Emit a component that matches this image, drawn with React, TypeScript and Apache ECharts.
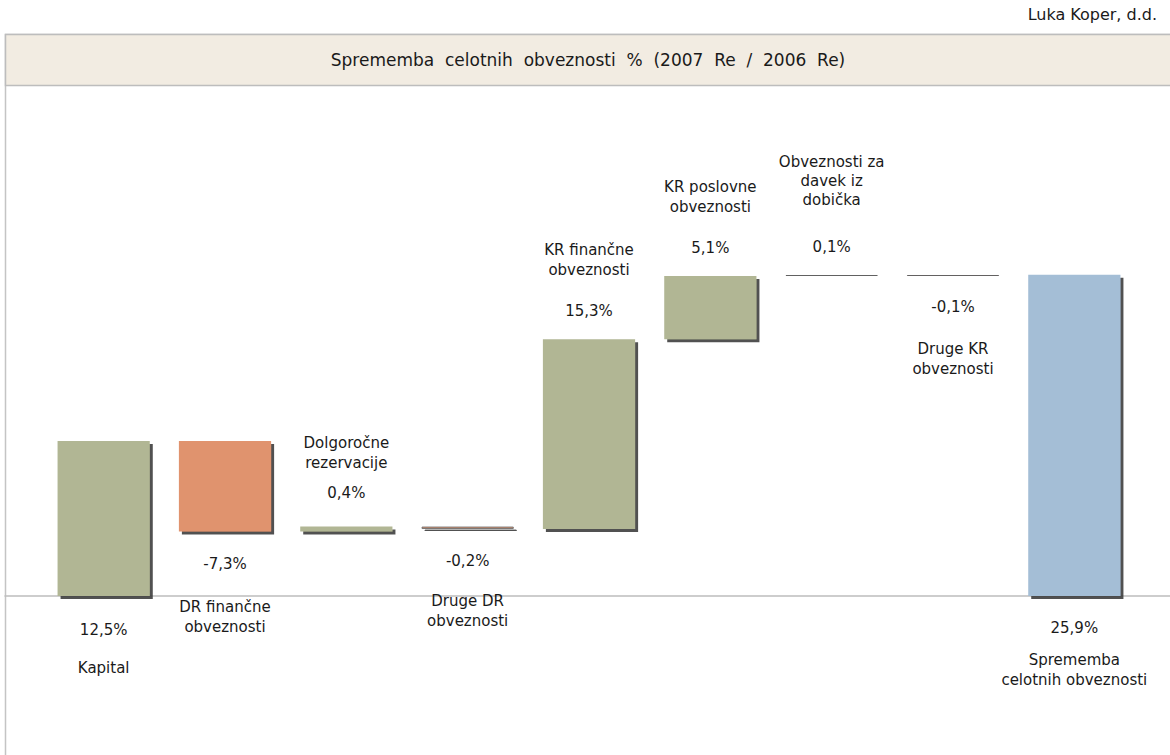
import React, { useEffect, useRef } from "react";
import * as echarts from "echarts";

const categories = [
  "Kapital",
  "DR finančne\nobveznosti",
  "Dolgoročne\nrezervacije",
  "Druge DR\nobveznosti",
  "KR finančne\nobveznosti",
  "KR poslovne\nobveznosti",
  "Obveznosti za\ndavek iz\ndobička",
  "Druge KR\nobveznosti",
  "Sprememba\ncelotnih obveznosti",
];
const changes = [12.5, -7.3, 0.4, -0.2, 15.3, 5.1, 0.1, -0.1];
const totalValue = 25.9;
const titleText = "Sprememba  celotnih  obveznosti  %  (2007  Re  /  2006  Re)";
const companyText = "Luka Koper, d.d.";

const GREEN = "#B1B694";
const ORANGE = "#E0936E";
const BLUE = "#A4BED6";
const FONT = "DejaVu Sans";

const fmt = (v: number) => v.toFixed(1).replace(".", ",") + "%";

export default function App() {
  const ref = useRef<HTMLDivElement>(null);
  useEffect(() => {
    if (!ref.current) return;
    const chart = echarts.init(ref.current, undefined, { renderer: "svg" });

    // label layout tweaks (distance from bar edge, gap between value and name)
    const labelDistance = [24, 22, 24, 22, 18, 18, 18, 21, 22];
    const labelGap = [18, 23, 10, 20, 21, 21, 27, 22, 12];

    const shadow = {
      shadowColor: "rgba(60,60,60,0.9)",
      shadowOffsetX: 3,
      shadowOffsetY: 3,
      shadowBlur: 1.5,
    };

    const lines = (s: string) =>
      s
        .split("\n")
        .map((l) => `{c|${l}}`)
        .join("\n");

    const makeLabel = (i: number, value: number, pos: string, valueFirst: boolean) => {
      const g = labelGap[i];
      const text = valueFirst
        ? `{v|${fmt(value)}}\n{g| }\n${lines(categories[i])}`
        : `${lines(categories[i])}\n{g| }\n{v|${fmt(value)}}`;
      return {
        show: true,
        position: pos,
        distance: labelDistance[i],
        formatter: () => text,
        rich: {
          v: { fontSize: 15, lineHeight: 20, fontFamily: FONT, color: "#1a1a1a" },
          c: {
            fontSize: 15,
            lineHeight: i === 6 ? 19 : 20,
            fontFamily: FONT,
            color: "#1a1a1a",
          },
          g: { fontSize: 4, lineHeight: g, height: g },
        },
      };
    };

    const thinStyle = (v: number) => {
      const a = Math.abs(v);
      if (a <= 0.1) return { borderColor: "rgba(95,95,95,0.95)", borderWidth: 1 };
      if (a < 0.3) return { borderColor: "rgba(110,110,110,0.9)", borderWidth: 1 };
      return {};
    };

    const baseData: number[] = [];
    const barData: any[] = [];
    let cum = 0;
    changes.forEach((v, i) => {
      const start = cum;
      const end = cum + v;
      cum = end;
      const isFirst = i === 0;
      baseData.push(Math.min(start, end));
      const pos = isFirst ? "bottom" : v >= 0 ? "top" : "bottom";
      const valueFirst = isFirst || v < 0;
      barData.push({
        value: Math.abs(v),
        itemStyle: {
          color: v >= 0 ? GREEN : ORANGE,
          ...shadow,
          ...thinStyle(v),
        },
        label: makeLabel(i, v, pos, valueFirst),
      });
    });
    baseData.push(0);
    barData.push({
      value: totalValue,
      itemStyle: { color: BLUE, ...shadow },
      label: makeLabel(categories.length - 1, totalValue, "bottom", true),
    });

    const yMin = -10;
    const yMax = 35;

    chart.setOption({
      animation: false,
      backgroundColor: "#ffffff",
      textStyle: { fontFamily: FONT },
      graphic: [
        {
          type: "rect",
          shape: { x: 5.5, y: 34.5, width: 1180, height: 740 },
          style: { fill: "none", stroke: "#C4C4C4", lineWidth: 1.5 },
          z: -1,
        },
        {
          type: "rect",
          shape: { x: 5.5, y: 34.5, width: 1180, height: 51 },
          style: { fill: "#F2ECE2", stroke: "#BDBDBD", lineWidth: 1.5 },
          z: -1,
        },
        {
          type: "text",
          style: {
            text: titleText,
            x: 588,
            y: 60,
            align: "center",
            verticalAlign: "middle",
            font: `17px "${FONT}"`,
            fill: "#1a1a1a",
          },
        },
        {
          type: "text",
          style: {
            text: companyText,
            x: 1157,
            y: 14,
            align: "right",
            verticalAlign: "middle",
            font: `16px "${FONT}"`,
            fill: "#1a1a1a",
          },
        },
      ],
      grid: [
        { left: 43, right: 35, top: 162, height: 558 },
        { left: 5, right: 0, top: 162, height: 558 },
      ],
      xAxis: [
        {
          type: "category",
          gridIndex: 0,
          data: categories,
          axisLine: { show: false },
          axisTick: { show: false },
          axisLabel: { show: false },
          splitLine: { show: false },
        },
        {
          type: "category",
          gridIndex: 1,
          data: ["", ""],
          axisLine: { show: true, onZero: true, lineStyle: { color: "#BDBDBD", width: 1.5 } },
          axisTick: { show: false },
          axisLabel: { show: false },
          splitLine: { show: false },
        },
      ],
      yAxis: [
        { type: "value", gridIndex: 0, min: yMin, max: yMax, show: false },
        { type: "value", gridIndex: 1, min: yMin, max: yMax, show: false },
      ],
      series: [
        {
          type: "bar",
          stack: "w",
          data: baseData,
          barWidth: "76%",
          itemStyle: { color: "transparent" },
          silent: true,
        },
        {
          type: "bar",
          stack: "w",
          data: barData,
          barWidth: "76%",
          label: { align: "center" },
        },
      ],
    });
    return () => chart.dispose();
  }, []);
  return (
    <div
      ref={ref}
      style={{ position: "fixed", left: 0, top: 0, width: 1170, height: 755 }}
    />
  );
}
